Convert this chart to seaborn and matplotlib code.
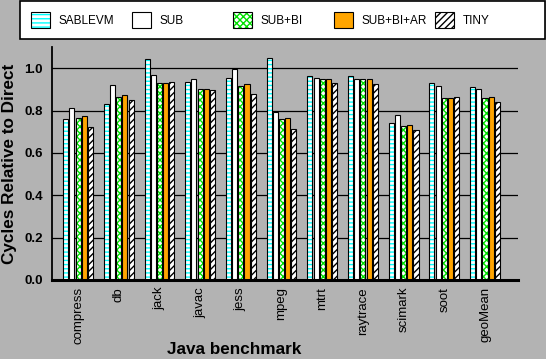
import pandas as pd
import matplotlib.pyplot as plt
import seaborn as sns
from matplotlib.patches import Rectangle, Patch

# data
benchmarks = ["compress", "db", "jack", "javac", "jess", "mpeg", "mtrt",
              "raytrace", "scimark", "soot", "geoMean"]
configs = ["SABLEVM", "SUB", "SUB+BI", "SUB+BI+AR", "TINY"]

sablevm = [0.758, 0.833, 1.041, 0.937, 0.956, 1.050, 0.961, 0.961, 0.739, 0.928, 0.909]
sub = [0.810, 0.920, 0.967, 0.951, 0.994, 0.794, 0.956, 0.951, 0.777, 0.914, 0.900]
sub_bi = [0.763, 0.862, 0.928, 0.904, 0.918, 0.758, 0.947, 0.947, 0.725, 0.857, 0.857]
sub_bi_ar = [0.772, 0.873, 0.928, 0.900, 0.925, 0.767, 0.947, 0.947, 0.730, 0.857, 0.862]
tiny = [0.720, 0.848, 0.937, 0.895, 0.876, 0.715, 0.928, 0.925, 0.706, 0.862, 0.838]

values = [sablevm, sub, sub_bi, sub_bi_ar, tiny]

rows = []
for cfg, vals in zip(configs, values):
    for b, v in zip(benchmarks, vals):
        rows.append({"bench": b, "cfg": cfg, "val": v})
df = pd.DataFrame(rows)

# fill colour, hatch, hatch colour per configuration
faces = ["white", "white", "white", "#ffa500", "white"]
hatches = ["----", "", "xxxxx", "", "/////"]
hatch_cols = ["#00ffff", "black", "#00e000", "black", "black"]

bg = "#b3b3b3"
sns.set_style("ticks")
plt.rcParams["font.family"] = ["Liberation Sans", "DejaVu Sans"]
plt.rcParams["hatch.linewidth"] = 1.0
for k in ["text.color", "axes.labelcolor", "xtick.color", "ytick.color"]:
    plt.rcParams[k] = "black"

fig = plt.figure(figsize=(5.46, 3.59), dpi=100, facecolor=bg)
ax = fig.add_axes([52 / 546, 1 - 280 / 359, 466 / 546, 233 / 359])
ax.set_facecolor(bg)

sns.barplot(data=df, x="bench", y="val", hue="cfg", order=benchmarks,
            hue_order=configs, palette=faces, saturation=1, width=0.76,
            gap=0.18, legend=False, ax=ax)

# hatch in its own colour, black outline drawn on top
for i, cont in enumerate(ax.containers):
    for bar in cont:
        bar.set_hatch(hatches[i])
        bar.set_edgecolor(hatch_cols[i])
        bar.set_linewidth(0)
        ax.add_patch(Rectangle(bar.get_xy(), bar.get_width(), bar.get_height(),
                               fill=False, edgecolor="black", lw=0.8,
                               zorder=bar.get_zorder() + 0.1))

ax.set_ylim(0, 1.1)
ax.set_xlim(-0.64, 10.81)
ax.set_yticks([0.0, 0.2, 0.4, 0.6, 0.8, 1.0])
ax.set_yticklabels(["0.0", "0.2", "0.4", "0.6", "0.8", "1.0"],
                   fontsize=9.5, fontweight="bold")
ax.set_xticks(range(len(benchmarks)))
ax.set_xticklabels(benchmarks, rotation=90, fontsize=9.5)
ax.tick_params(axis="both", length=0)
ax.tick_params(axis="y", pad=6.5)
ax.tick_params(axis="x", pad=5)
ax.yaxis.grid(True, color="black", lw=0.9)
ax.set_axisbelow(True)

for s in ["top", "right"]:
    ax.spines[s].set_visible(False)
ax.spines["left"].set_linewidth(1.3)
ax.spines["left"].set_color("black")
ax.spines["bottom"].set_linewidth(2.2)
ax.spines["bottom"].set_color("black")

ax.set_xlabel("Java benchmark", fontsize=12.3, fontweight="bold")
ax.xaxis.set_label_coords(0.392, -0.265)
ax.set_ylabel("Cycles Relative to Direct", fontsize=12.3, fontweight="bold")
ax.yaxis.set_label_coords(-0.075, 0.5)

# legend box across the top, one entry every 101 px
fig.add_artist(Rectangle((20 / 546, 1 - 39 / 359), 525 / 546, 38 / 359,
                         transform=fig.transFigure, facecolor="white",
                         edgecolor="black", lw=1.2, zorder=1))
for i, cfg in enumerate(configs):
    h = (Patch(facecolor=faces[i], hatch=hatches[i], edgecolor=hatch_cols[i], lw=0),
         Patch(fill=False, edgecolor="black", lw=0.8))
    leg = fig.legend([h], [cfg], loc="center left",
                     bbox_to_anchor=((31 + 101 * i) / 546, 1 - 20 / 359),
                     frameon=False, fontsize=8.5, handlelength=1.6,
                     handleheight=1.7, handletextpad=0.75, borderpad=0,
                     borderaxespad=0)
    leg.set_zorder(2)

fig.savefig("out.png", dpi=100, facecolor=bg)
